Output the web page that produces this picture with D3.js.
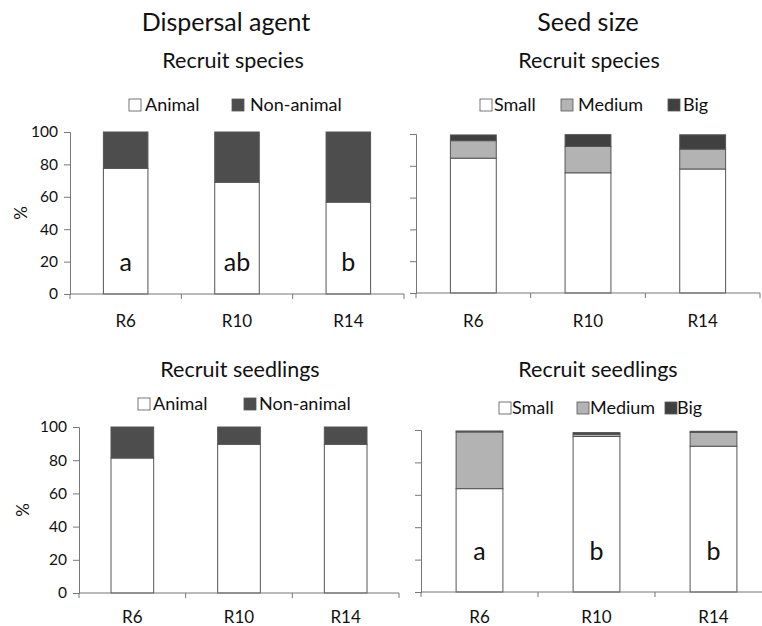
<!DOCTYPE html>
<html>
<head>
<meta charset="utf-8">
<script src="https://cdn.jsdelivr.net/npm/d3@7"></script>
<style>
  body { margin: 0; background: #fff; }
  svg { display: block; }
  text { font-family: Lato, "Open Sans", sans-serif; fill: #111; }
</style>
</head>
<body>
<svg id="chart" width="762" height="626"></svg>
<script>
// ---- data ----
const categories = ["R6", "R10", "R14"];
const yTicks = [0, 20, 40, 60, 80, 100];

const dispersalSeries = ["Animal", "Non-animal"];
const speciesAnimal = [77.6, 69.0, 56.7];
const speciesNonAnimal = [22.4, 31.0, 43.3];
const seedlingsAnimal = [81.3, 89.6, 89.6];
const seedlingsNonAnimal = [18.7, 10.4, 10.4];

const sizeSeries = ["Small", "Medium", "Big"];
const speciesSmall = [84.8, 75.6, 78.0];
const speciesMedium = [11.0, 16.6, 12.5];
const speciesBig = [3.6, 7.4, 9.0];
const seedlingsSmall = [63.8, 96.0, 90.0];
const seedlingsMedium = [35.0, 1.4, 8.6];
const seedlingsBig = [0.6, 1.0, 0.6];

const lettersSpeciesDispersal = ["a", "ab", "b"];
const lettersSeedlingsSize = ["a", "b", "b"];

// ---- styles ----
const fillDispersal = ["#ffffff", "#4d4d4d"];
const fillSize = ["#ffffff", "#b3b3b3", "#404040"];
const barStroke = "#555";
const axisColor = "#777";

const svg = d3.select("#chart");

svg.append("text").attr("x", 226).attr("y", 31).attr("text-anchor", "middle")
  .style("font-size", "25px").text("Dispersal agent");
svg.append("text").attr("x", 588).attr("y", 31).attr("text-anchor", "middle")
  .style("font-size", "25px").text("Seed size");

function panel(cfg) {
  const g = svg.append("g");
  const x = d3.scaleBand().domain(categories).range([cfg.x0, cfg.x1])
    .paddingInner(1 - cfg.barFrac).paddingOuter((1 - cfg.barFrac) / 2);
  const y = d3.scaleLinear().domain([0, 100]).range([cfg.yb, cfg.yt]);
  const step = x.step();

  g.append("text").attr("x", cfg.titleX).attr("y", cfg.titleY).attr("text-anchor", "middle")
    .style("font-size", "21.5px").text(cfg.title);

  const rows = categories.map((c, i) => {
    const o = { cat: c };
    cfg.series.forEach((s, j) => o[s] = cfg.values[j][i]);
    return o;
  });
  const stack = d3.stack().keys(cfg.series)(rows);
  stack.forEach((layer, j) => {
    g.selectAll(null).data(layer).enter().append("rect")
      .attr("x", d => x(d.data.cat))
      .attr("width", x.bandwidth())
      .attr("y", d => y(d[1]))
      .attr("height", d => Math.max(0, y(d[0]) - y(d[1])))
      .attr("fill", cfg.fills[j])
      .attr("stroke", barStroke).attr("stroke-width", 1);
  });

  const ya = d3.axisLeft(y).tickValues(yTicks).tickSize(6).tickPadding(6)
    .tickFormat(cfg.showLabels ? d3.format("d") : () => "");
  const yg = g.append("g").attr("transform", `translate(${cfg.x0},0)`).call(ya);
  yg.select(".domain").attr("stroke", axisColor);
  yg.selectAll(".tick line").attr("stroke", axisColor);
  yg.selectAll(".tick text").style("font-size", "15.5px").attr("fill", "#111")
    .style("font-family", "Lato, sans-serif");

  g.append("line").attr("x1", cfg.x0).attr("x2", cfg.x1).attr("y1", cfg.yb).attr("y2", cfg.yb)
    .attr("stroke", axisColor);
  const bounds = d3.range(categories.length + 1).map(i => cfg.x0 + i * step);
  g.selectAll(null).data(bounds).enter().append("line")
    .attr("x1", d => d).attr("x2", d => d).attr("y1", cfg.yb).attr("y2", cfg.yb + 5)
    .attr("stroke", axisColor);
  g.selectAll(null).data(categories).enter().append("text")
    .attr("x", d => x(d) + x.bandwidth() / 2).attr("y", cfg.labelY)
    .attr("text-anchor", "middle").style("font-size", "17px").text(d => d);

  if (cfg.showLabels) {
    g.append("text").attr("transform", `translate(${cfg.pctX},${(cfg.yb + cfg.yt) / 2}) rotate(-90)`)
      .attr("text-anchor", "middle").attr("dy", "0.35em").style("font-size", "17px").text("%");
  }

  cfg.series.forEach((s, j) => {
    g.append("rect").attr("x", cfg.legend[j]).attr("y", cfg.legendY - 12)
      .attr("width", 12).attr("height", 12)
      .attr("fill", cfg.fills[j]).attr("stroke", "#555").attr("stroke-width", 0.8);
    g.append("text").attr("x", cfg.legendText[j]).attr("y", cfg.legendY)
      .style("font-size", "18px").text(s);
  });

  if (cfg.letters) {
    g.selectAll(null).data(categories).enter().append("text")
      .attr("x", d => x(d) + x.bandwidth() / 2).attr("y", cfg.letterY)
      .attr("text-anchor", "middle").style("font-size", "25px")
      .text((d, i) => cfg.letters[i]);
  }
}

panel({
  title: "Recruit species", titleX: 233, titleY: 68,
  x0: 70, x1: 404, yb: 294, yt: 132, barFrac: 0.4,
  series: dispersalSeries, values: [speciesAnimal, speciesNonAnimal], fills: fillDispersal,
  showLabels: true, pctX: 21, labelY: 327,
  legend: [129, 232], legendText: [145, 250], legendY: 111,
  letters: lettersSpeciesDispersal, letterY: 271
});
panel({
  title: "Recruit species", titleX: 589, titleY: 68,
  x0: 416, x1: 760, yb: 293, yt: 134, barFrac: 0.4,
  series: sizeSeries, values: [speciesSmall, speciesMedium, speciesBig], fills: fillSize,
  showLabels: false, labelY: 327,
  legend: [480, 561, 668], legendText: [494, 578, 683], legendY: 111
});
panel({
  title: "Recruit seedlings", titleX: 240, titleY: 377,
  x0: 79, x1: 399, yb: 593, yt: 427, barFrac: 0.4,
  series: dispersalSeries, values: [seedlingsAnimal, seedlingsNonAnimal], fills: fillDispersal,
  showLabels: true, pctX: 23, labelY: 623,
  legend: [138, 244], legendText: [153, 259], legendY: 410
});
panel({
  title: "Recruit seedlings", titleX: 598, titleY: 377,
  x0: 421, x1: 772, yb: 592, yt: 430, barFrac: 0.4,
  series: sizeSeries, values: [seedlingsSmall, seedlingsMedium, seedlingsBig], fills: fillSize,
  showLabels: false, labelY: 623,
  legend: [499, 577, 665], legendText: [512, 590, 677], legendY: 414,
  letters: lettersSeedlingsSize, letterY: 560
});
</script>
</body>
</html>
